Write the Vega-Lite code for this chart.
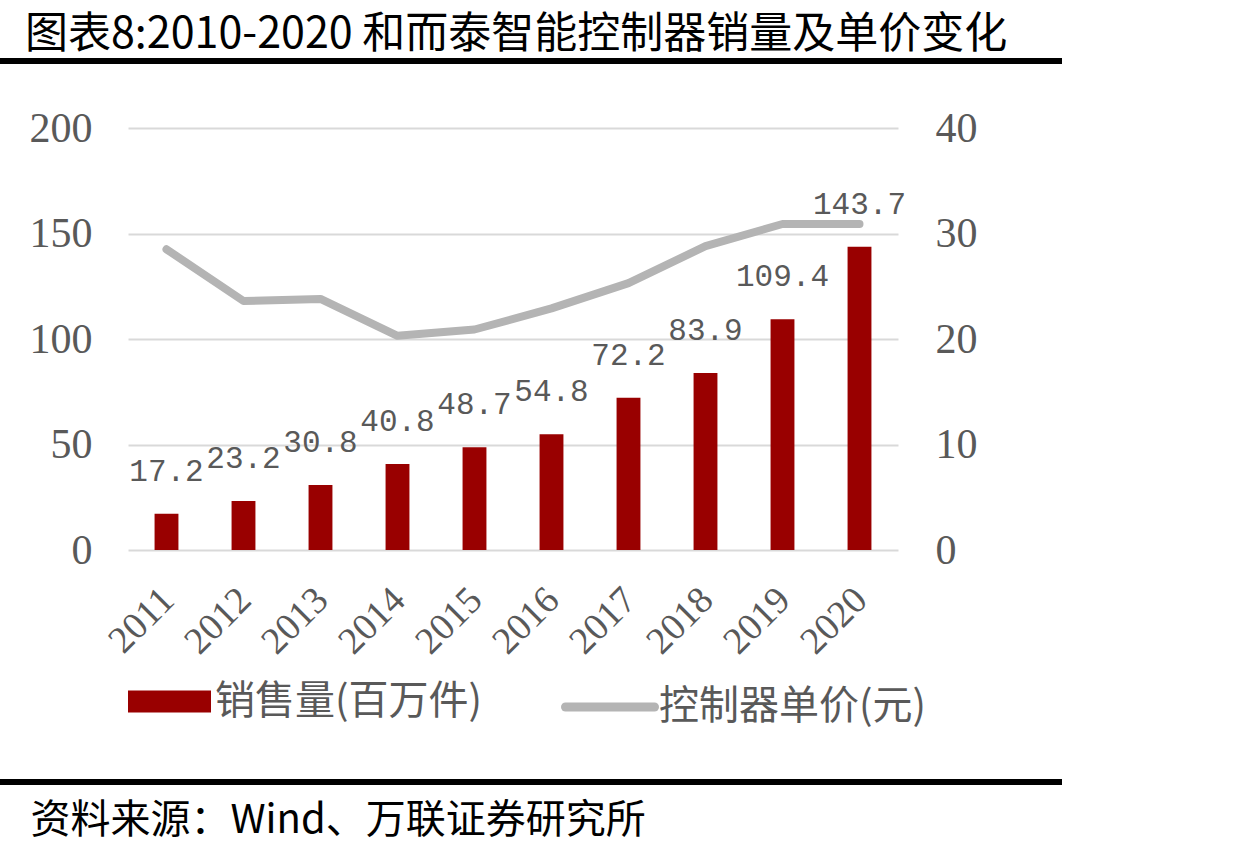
{
  "$schema": "https://vega.github.io/schema/vega-lite/v6.json",
  "width": 770,
  "height": 422,
  "autosize": "none",
  "padding": {"left": 128, "top": 128, "right": 348, "bottom": 304},
  "background": "white",
  "config": {"view": {"stroke": null}, "legend": {"padding": 0}},
  "title": {
    "text": "图表8:2010-2020 和而泰智能控制器销量及单价变化",
    "anchor": "start",
    "frame": "group",
    "dx": -103,
    "dy": 4,
    "offset": 5,
    "font": "Noto Sans CJK SC",
    "fontSize": 43,
    "fontWeight": "normal",
    "color": "#000000"
  },
  "data": {
    "values": [
      {"year": "2011", "sales": 17.2, "price": 28.5},
      {"year": "2012", "sales": 23.2, "price": 23.6},
      {"year": "2013", "sales": 30.8, "price": 23.8},
      {"year": "2014", "sales": 40.8, "price": 20.3},
      {"year": "2015", "sales": 48.7, "price": 20.9},
      {"year": "2016", "sales": 54.8, "price": 22.9},
      {"year": "2017", "sales": 72.2, "price": 25.3},
      {"year": "2018", "sales": 83.9, "price": 28.8},
      {"year": "2019", "sales": 109.4, "price": 30.9},
      {"year": "2020", "sales": 143.7, "price": 30.9}
    ]
  },
  "layer": [
    {
      "encoding": {
        "x": {
          "field": "year",
          "type": "ordinal",
          "scale": {"paddingInner": 0, "paddingOuter": 0},
          "axis": {
            "labelAngle": -45,
            "labelAlign": "right",
            "labelBaseline": "middle",
            "labelFont": "Liberation Serif",
            "labelFontSize": 38,
            "labelColor": "#595959",
            "labelPadding": 44,
            "labelOffset": 2,
            "domain": false,
            "ticks": false,
            "grid": false,
            "title": "资料来源：Wind、万联证券研究所",
            "titleX": -98,
            "titleY": 270,
            "titleAlign": "left",
            "titleBaseline": "middle",
            "titleAngle": 0,
            "titleFont": "Noto Sans CJK SC",
            "titleFontSize": 40,
            "titleFontWeight": "normal",
            "titleColor": "#000000"
          }
        },
        "y": {
          "field": "sales",
          "type": "quantitative",
          "scale": {"domain": [0, 200], "nice": false},
          "axis": {
            "orient": "left",
            "values": [0, 50, 100, 150, 200],
            "grid": true,
            "gridColor": "#D9D9D9",
            "gridWidth": 2,
            "domain": false,
            "ticks": false,
            "labelFont": "Liberation Serif",
            "labelFontSize": 42,
            "labelColor": "#595959",
            "labelPadding": 36,
            "title": null
          }
        }
      },
      "layer": [
        {
          "mark": {"type": "bar", "width": {"band": 0.31}},
          "encoding": {
            "color": {
              "datum": "销售量(百万件)",
              "scale": {"range": ["#990000"]},
              "legend": {
                "orient": "none",
                "legendX": 0,
                "legendY": 532,
                "title": null,
                "symbolType": "M-1,-0.265H1V0.265H-1Z",
                "symbolSize": 6889,
                "symbolStrokeWidth": 0,
                "labelFont": "Noto Sans CJK SC",
                "labelFontSize": 40,
                "labelColor": "#595959",
                "labelOffset": 4,
                "labelLimit": 500
              }
            }
          }
        },
        {
          "mark": {
            "type": "text",
            "font": "Liberation Mono",
            "fontSize": 31,
            "color": "#595959",
            "baseline": "middle",
            "dy": -42
          },
          "encoding": {
            "text": {"field": "sales", "type": "quantitative", "format": ".1f"}
          }
        }
      ]
    },
    {
      "mark": {"type": "line", "strokeWidth": 8, "strokeCap": "round", "strokeJoin": "round"},
      "encoding": {
        "x": {"field": "year", "type": "ordinal"},
        "y": {
          "field": "price",
          "type": "quantitative",
          "scale": {"domain": [0, 40], "nice": false},
          "axis": {
            "orient": "right",
            "values": [0, 10, 20, 30, 40],
            "grid": false,
            "domain": false,
            "ticks": false,
            "labelFont": "Liberation Serif",
            "labelFontSize": 42,
            "labelColor": "#595959",
            "labelPadding": 37,
            "title": null
          }
        },
        "stroke": {
          "datum": "控制器单价(元)",
          "scale": {"range": ["#B4B4B4"]},
          "legend": {
            "orient": "none",
            "legendX": 433,
            "legendY": 530,
            "title": null,
            "symbolType": "stroke",
            "symbolSize": 7921,
            "symbolStrokeWidth": 9,
            "labelFont": "Noto Sans CJK SC",
            "labelFontSize": 40,
            "labelColor": "#595959",
            "labelOffset": 0,
            "labelLimit": 500,
            "encode": {"symbols": {"update": {"strokeCap": {"value": "round"}}}}
          }
        }
      }
    },
    {
      "data": {"values": [{"pos": "top"}]},
      "mark": {"type": "rule", "color": "#000000", "strokeWidth": 6},
      "encoding": {"x": {"value": -128}, "x2": {"value": 934}, "y": {"value": -67}}
    },
    {
      "data": {"values": [{"pos": "bottom"}]},
      "mark": {"type": "rule", "color": "#000000", "strokeWidth": 6},
      "encoding": {"x": {"value": -128}, "x2": {"value": 934}, "y": {"value": 654}}
    }
  ],
  "resolve": {"scale": {"y": "independent"}}
}
